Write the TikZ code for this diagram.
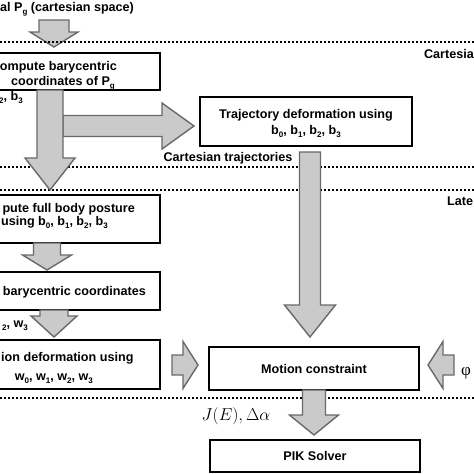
\documentclass[tikz,border=0pt]{standalone}
\usepackage{fontspec}
\setmainfont{Liberation Sans}
\newfontfamily\phifont{Liberation Serif}
\usetikzlibrary{positioning}
\usetikzlibrary{calc}

\definecolor{arrowfill}{RGB}{202,202,202}
\definecolor{arrowedge}{RGB}{105,105,105}

\newcommand{\idx}[1]{\raisebox{-0.28em}{\fontsize{8}{8}\selectfont #1}}

% block arrow: from, tip, half shaft, half head, head length
\newcommand{\fatarrow}[5]{%
	\coordinate (fa-h) at ($(#2)!#5!(#1)$);
	\draw[blockarrow] ($(#1)!#3!90:(#2)$) -- ($(fa-h)!#3!90:(#2)$)
		-- ($(fa-h)!#4!90:(#2)$) -- (#2) -- ($(fa-h)!#4!-90:(#2)$)
		-- ($(fa-h)!#3!-90:(#2)$) -- ($(#1)!#3!-90:(#2)$) -- cycle;}

\begin{document}
\begin{tikzpicture}
		[x=1pt, y=-1pt,
		font=\fontsize{12.6}{16}\selectfont\bfseries,
		stepbox/.style={rectangle, draw=black, line width=2pt, fill=white, inner sep=0pt, align=center},
		lefttext/.style={inner sep=0pt, anchor=base east},
		layerline/.style={line width=2pt, dash pattern=on 2pt off 2pt},
		blockarrow/.style={fill=arrowfill, draw=arrowedge, line width=1.4pt, line join=miter}]
		\useasboundingbox (0,0) rectangle (474,474);
		\clip (0,0) rectangle (474,474);

		% layers
		\coordinate (l2w) at (0,167);
		\coordinate (l2e) at (474,167);
		\coordinate (l3w) at (0,190);
		\coordinate (l3e) at (474,190);
		\coordinate (l4w) at (0,398);
		\coordinate (l4e) at (474,398);
		\draw[layerline] (l2w) -- (l2e);
		\draw[layerline] (l3w) -- (l3e);
		\draw[layerline] (l4w) -- (l4e);

		% boxes
		\node[stepbox, minimum width=190, minimum height=37] (bary) at (65,71.5) {};
		\node[stepbox, minimum width=212, minimum height=49] (traj) at (306,121.5) {};
		\node[stepbox, minimum width=190, minimum height=48] (posture) at (65,219) {};
		\node[stepbox, minimum width=190, minimum height=38] (newbary) at (65,291) {};
		\node[stepbox, minimum width=190, minimum height=49] (motdef) at (65,364.5) {};
		\node[stepbox, minimum width=210, minimum height=43] (constraint) at (314,368.5) {Motion constraint};
		\node[stepbox, minimum width=210, minimum height=32] (pik) at (315,456) {PIK Solver};

		% arrow ends
		\coordinate (goal) at (54,20);
		\coordinate (baryin) at (54,47);
		\coordinate (baryout) at (50,90);
		\coordinate (posturein) at (50,190);
		\coordinate (branch) at (63,126);
		\coordinate (trajin) at (194,126);
		\coordinate (postureout) at (47,243);
		\coordinate (newbaryin) at (47,270);
		\coordinate (newbaryout) at (54,310);
		\coordinate (motdefin) at (54,337);
		\coordinate (trajout) at (310,152);
		\coordinate (constrainttop) at (310,337);
		\coordinate (motdefout) at (172,365);
		\coordinate (constraintwest) at (198,365);
		\coordinate (phiout) at (454,365);
		\coordinate (constrainteast) at (428,365);
		\coordinate (constraintout) at (314,390);
		\coordinate (pikin) at (314,435);

		\fatarrow{goal}{baryin}{15pt}{24pt}{15pt}
		\draw[layerline] (0,42) coordinate (l1w) -- (474,42) coordinate (l1e);
		\fatarrow{branch}{trajin}{10.5pt}{23pt}{32pt}
		\fatarrow{baryout}{posturein}{13pt}{25pt}{32pt}
		\fatarrow{postureout}{newbaryin}{13.5pt}{24.5pt}{15pt}
		\fatarrow{newbaryout}{motdefin}{14pt}{23pt}{21pt}
		\fatarrow{trajout}{constrainttop}{10.5pt}{25.5pt}{32pt}
		\fatarrow{motdefout}{constraintwest}{10pt}{23.5pt}{15pt}
		\fatarrow{phiout}{constrainteast}{10pt}{23.5pt}{15pt}
		\fatarrow{constraintout}{pikin}{11.5pt}{24.5pt}{20pt}

		% texts
		\node[inner sep=0pt, anchor=base west] (goaltext) at (0,11) {al P\idx{g} (cartesian space)};
		\node[inner sep=0pt, anchor=base east] (cartlayer) at (474,58) {Cartesia};
		\node[inner sep=0pt, anchor=base west] (latelayer) at (447,205) {Late};
		\node[lefttext] (barytext1) at (117,70) {ompute barycentric};
		\node[lefttext] (barytext2) at (115,85) {coordinates of P\idx{g}};
		\node[lefttext] (bcoef) at (23,100) {\idx{2}, b\idx{3}};
		\node[inner sep=0pt, anchor=base] (trajtext1) at (306,118) {Trajectory deformation using};
		\node[inner sep=0pt, anchor=base] (trajtext2) at (306,134) {b\idx{0}, b\idx{1}, b\idx{2}, b\idx{3}};
		\node[inner sep=0pt, anchor=base] (carttraj) at (228,161) {Cartesian trajectories};
		\node[lefttext] (posturetext1) at (135,212) {pute full body posture};
		\node[lefttext] (posturetext2) at (108,225) {using b\idx{0}, b\idx{1}, b\idx{2}, b\idx{3}};
		\node[lefttext] (newbarytext) at (146,295) {barycentric coordinates};
		\node[inner sep=0pt, anchor=base west] (motdeftext1) at (1,361) {ion deformation using};
		\node[lefttext] (motdeftext2) at (93,380) {w\idx{0}, w\idx{1}, w\idx{2}, w\idx{3}};
		\node[lefttext] (wcoef) at (28,327) {\idx{2}, w\idx{3}};
		\node[inner sep=0pt, anchor=base, font=\fontsize{18}{20}\selectfont] (jacobian) at (236,420) {$J(E), \Delta\alpha$};
		\node[inner sep=0pt, anchor=base west, font=\phifont\fontsize{17}{17}\selectfont] (phi) at (461,375) {φ};
	\end{tikzpicture}
\end{document}
